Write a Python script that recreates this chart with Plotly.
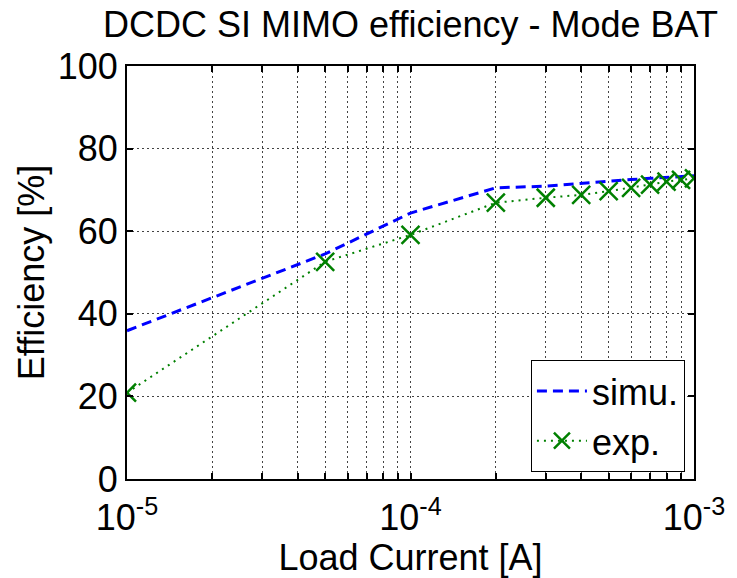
import plotly.graph_objects as go

# Load current sweep [A]
load_current = [1e-5, 5e-5, 1e-4, 2e-4, 3e-4, 4e-4, 5e-4, 6e-4, 7e-4, 8e-4, 9e-4, 1e-3]
# Efficiency [%]
eff_simu = [35.9, 54.5, 64.4, 70.5, 70.9, 71.6, 72.2, 72.5, 72.8, 73.0, 73.2, 73.4]
eff_exp = [20.9, 52.6, 59.1, 66.9, 68.1, 68.8, 69.7, 70.5, 71.3, 72.0, 72.4, 72.8]

decades = [-5, -4, -3]
x_tickvals = []
x_ticktext = []
for e in decades[:-1]:
    for k in range(1, 10):
        x_tickvals.append(k * 10.0 ** e)
        x_ticktext.append(f"10<sup>{e}</sup>" if k == 1 else "")
x_tickvals.append(1e-3)
x_ticktext.append("10<sup>-3</sup>")

y_tickvals = [0, 20, 40, 60, 80, 100]

FONT = "Liberation Sans, Arial, Helvetica, sans-serif"

fig = go.Figure()
fig.add_trace(go.Scatter(
    x=load_current, y=eff_simu, name="simu.", mode="lines",
    line=dict(color="#0000ff", width=3, dash="10px,6px"),
))
fig.add_trace(go.Scatter(
    x=load_current, y=eff_exp, name="exp.", mode="lines+markers",
    line=dict(color="#008000", width=2, dash="2px,5px"),
    marker=dict(symbol="x-thin", size=18, color="#008000",
                line=dict(color="#008000", width=2.5)),
))

fig.update_layout(
    width=737, height=578,
    margin=dict(l=127, r=35, t=66, b=99),
    paper_bgcolor="white", plot_bgcolor="white",
    font=dict(family=FONT, size=36, color="black"),
    title=dict(text="DCDC SI MIMO efficiency - Mode BAT", x=0.5, xref="paper",
               xanchor="center", y=0.958, yanchor="middle",
               font=dict(size=36)),
    showlegend=True,
    legend=dict(x=0.984, y=0.017, xanchor="right", yanchor="bottom",
                bgcolor="white", bordercolor="black", borderwidth=1,
                font=dict(size=36), tracegroupgap=0, itemwidth=50),
)
fig.update_xaxes(
    type="log", range=[-5, -3],
    tickmode="array", tickvals=x_tickvals, ticktext=x_ticktext,
    ticks="inside", ticklen=6, tickwidth=1.5, tickcolor="black",
    ticklabelstandoff=6,
    showline=True, linecolor="black", linewidth=2, mirror="allticks",
    showgrid=True, gridcolor="#444", gridwidth=1, griddash="1.5px,3.5px",
    zeroline=False,
    title=dict(text="Load Current [A]", font=dict(size=36), standoff=0),
    tickfont=dict(size=36),
)
fig.update_yaxes(
    range=[0, 100], tickmode="array", tickvals=y_tickvals,
    ticks="inside", ticklen=6, tickwidth=1.5, tickcolor="black",
    showline=True, linecolor="black", linewidth=2, mirror="allticks",
    showgrid=True, gridcolor="#444", gridwidth=1, griddash="1.5px,3.5px",
    zeroline=False,
    title=dict(text="Efficiency [%]", font=dict(size=36), standoff=2),
    tickfont=dict(size=36),
)

fig.write_html("out.html")
